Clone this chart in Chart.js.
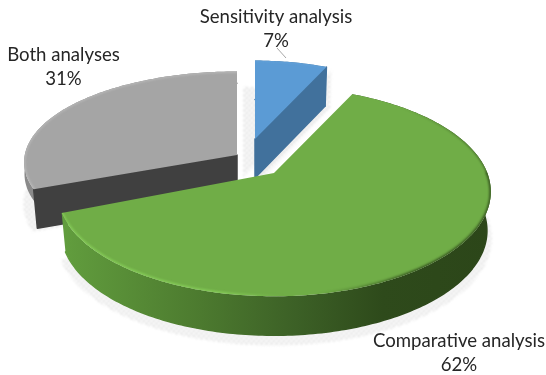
<!DOCTYPE html>
<html>
<head>
<meta charset="utf-8">
<style>html,body{margin:0;padding:0;background:#fff}canvas{display:block}</style>
<script src="https://cdn.jsdelivr.net/npm/chart.js@4"></script>
</head>
<body>
<canvas id="pie" width="546" height="375"></canvas>
<script>
const categories = ['Sensitivity analysis', 'Comparative analysis', 'Both analyses'];
const shares = [7, 62, 31];
const topColors = ['#5B9BD5', '#70AD47', '#A5A5A5'];

// Tilted-disc projection, expressed relative to the arc's own radius.
const WIDTH_RATIO = 1.155;
const HEIGHT_RATIO = 0.548;
const THICKNESS = 39;
const BASE_SHRINK = 0.018;

// Per-slice explosion (screen offset of the tip), apparent size and foreshortening.
const explode = [
  { dx: -18, dy: -48.5, size: 0.9, tall: 1, persp: 0.179 },
  { dx: 1, dy: -14.5, size: 0.985, tall: 1, persp: 0.179 },
  { dx: -36, dy: -32.5, size: 0.98, tall: 0.896, persp: 0.08 }
];
const labelSpots = [
  { x: 276, y: 23, y2: 47 },
  { x: 459, y: 347, y2: 371 },
  { x: 63.5, y: 61, y2: 85 }
];

function projector(el, i) {
  const e = explode[i];
  const cx = el.x + e.dx, cy = el.y + e.dy;
  const rx = el.outerRadius * WIDTH_RATIO * e.size;
  const ry = el.outerRadius * HEIGHT_RATIO * e.size * e.tall;
  return (theta, r, low) => {
    const X = Math.sin(theta) * r, Y = Math.cos(theta) * r;
    const w = 1 + e.persp * Y;
    const k = low ? 1 - BASE_SHRINK : 1;
    return [cx + rx * X / w * k, cy - ry * Y / w + (low ? THICKNESS : 0)];
  };
}
// Chart.js measures from 3 o'clock; the projection measures from 12 o'clock.
const sweep = (el) => [el.startAngle + Math.PI / 2, el.endAngle + Math.PI / 2];

function rimPoints(p, a0, a1, low, r = 1) {
  const n = Math.max(8, Math.ceil((a1 - a0) * 60));
  const pts = [];
  for (let j = 0; j <= n; j++) pts.push(p(a0 + (a1 - a0) * j / n, r, low));
  return pts;
}
function trace(ctx, pts) {
  ctx.beginPath();
  pts.forEach((q, j) => j ? ctx.lineTo(q[0], q[1]) : ctx.moveTo(q[0], q[1]));
  ctx.closePath();
}
function polyline(ctx, pts) {
  ctx.beginPath();
  pts.forEach((q, j) => j ? ctx.lineTo(q[0], q[1]) : ctx.moveTo(q[0], q[1]));
}
function dotPattern(ctx) {
  const c = document.createElement('canvas');
  c.width = c.height = 5;
  const g = c.getContext('2d');
  g.fillStyle = 'rgba(165,165,165,0.4)';
  g.beginPath(); g.arc(1.5, 1.5, 1.2, 0, 7); g.fill();
  g.beginPath(); g.arc(4, 4, 1.2, 0, 7); g.fill();
  return ctx.createPattern(c, 'repeat');
}

const tiltedPie = {
  id: 'tiltedPie',
  beforeDatasetsDraw(chart) {
    const ctx = chart.ctx;
    const arcs = chart.getDatasetMeta(0).data;
    const [blue, green, grey] = arcs;

    // Soft halftone shadow under the slices.
    ctx.save();
    ctx.filter = 'blur(0.9px)';
    ctx.fillStyle = dotPattern(ctx);
    arcs.forEach((el, i) => {
      const p = projector(el, i);
      const [a0, a1] = sweep(el);
      const grow = i === 1 ? 1.022 : 1.012;
      const base = [p(a0, 0, true)].concat(rimPoints(p, a0, a1, true, grow));
      ctx.save();
      ctx.translate(i === 2 ? -2 : 0, i === 1 ? 7 : 3);
      trace(ctx, base);
      ctx.fill();
      ctx.restore();
    });
    const pb = projector(blue, 0);
    const [b0, b1] = sweep(blue);
    ctx.save();
    ctx.translate(-12, -1);
    trace(ctx, [pb(b0, 0, true), pb(b0, 0.62, false), pb(b1, 0.62, false), pb(b1, 0.4, true)]);
    ctx.fill();
    ctx.translate(17, 4);
    trace(ctx, [pb(b1, 0, false), pb(b1, 1, false), pb(b1, 1, true), pb(b1, 0, true)]);
    ctx.fill();
    ctx.restore();
    ctx.restore();

    // Back to front: grey, blue, then the green slice.
    drawSlice(ctx, grey, 2, {
      band: '#8a8a8a',
      wall: 0.3,
      cut: { edge: 0, color: '#404040' },
      light: 'rgba(200,200,200,0.55)'
    });
    drawSlice(ctx, blue, 0, {
      band: '#41719C',
      wall: 1,
      cut: { edge: 1, color: '#41719C' },
      light: 'rgba(120,175,225,0.25)'
    });
    const sideFade = ctx.createLinearGradient(60, 0, 490, 0);
    sideFade.addColorStop(0, '#629E3E');
    sideFade.addColorStop(0.3, '#4E7D30');
    sideFade.addColorStop(0.55, '#3C6026');
    sideFade.addColorStop(0.75, '#2E4A1B');
    sideFade.addColorStop(1, '#2C4619');
    drawSlice(ctx, green, 1, {
      band: sideFade,
      wall: 1,
      light: 'rgba(136,208,90,0.85)',
      dark: 'rgba(44,70,25,0.85)'
    });
    return false;
  },
  afterDraw(chart) {
    const ctx = chart.ctx;
    const values = chart.data.datasets[0].data;
    ctx.save();
    ctx.fillStyle = '#262626';
    ctx.textAlign = 'center';
    ctx.textBaseline = 'alphabetic';
    ctx.font = '18.6px Lato, Carlito, sans-serif';
    chart.data.labels.forEach((name, i) => {
      const s = labelSpots[i];
      ctx.fillText(name, s.x, s.y);
      ctx.fillText(values[i] + '%', s.x, s.y2);
    });
    // Leader line for the small slice.
    ctx.strokeStyle = '#a6a6a6';
    ctx.lineWidth = 1;
    ctx.beginPath();
    ctx.moveTo(277, 48);
    ctx.lineTo(286, 58);
    ctx.stroke();
    ctx.restore();
  }
};

function drawSlice(ctx, el, i, look) {
  const p = projector(el, i);
  const [a0, a1] = sweep(el);
  const topRim = rimPoints(p, a0, a1, false);
  // The wall may stop part-way down where the flat cut covers the rest.
  const lowRim = rimPoints(p, a0, a1, true).map((q, j) => [
    topRim[j][0] + (q[0] - topRim[j][0]) * look.wall,
    topRim[j][1] + (q[1] - topRim[j][1]) * look.wall
  ]);

  // Outer wall, with its lower edge softly rounded.
  ctx.save();
  ctx.fillStyle = look.band;
  trace(ctx, topRim.concat(lowRim.slice().reverse()));
  ctx.fill();
  ctx.strokeStyle = look.band;
  ctx.lineJoin = 'round';
  ctx.lineCap = 'round';
  ctx.lineWidth = 1.5;
  polyline(ctx, lowRim);
  ctx.stroke();
  ctx.restore();

  // Flat wall exposed by the explosion.
  if (look.cut) {
    const a = look.cut.edge === 0 ? a0 : a1;
    ctx.save();
    ctx.fillStyle = look.cut.color;
    ctx.strokeStyle = look.cut.color;
    ctx.lineJoin = 'round';
    ctx.lineWidth = 1.5;
    trace(ctx, [p(a, 0, false), p(a, 1, false), p(a, 1, true), p(a, 0, true)]);
    ctx.fill();
    ctx.stroke();
    ctx.restore();
  }

  // Top face with a bevelled rim.
  ctx.save();
  trace(ctx, [p(a0, 0, false)].concat(topRim));
  ctx.fillStyle = el.options.backgroundColor;
  ctx.fill();
  ctx.clip();
  ctx.filter = 'blur(1.2px)';
  ctx.lineCap = 'round';

  const fade = (color) => color.replace(/[\d.]+\)$/, '0)');
  if (look.dark) {
    // Front edge: light on the left, shaded towards the right.
    const front = rimPoints(p, Math.PI / 2, a1, false);
    const bevel = ctx.createLinearGradient(60, 0, 490, 0);
    bevel.addColorStop(0, look.light);
    bevel.addColorStop(0.38, look.light);
    bevel.addColorStop(0.52, fade(look.light));
    bevel.addColorStop(0.6, fade(look.dark));
    bevel.addColorStop(0.82, look.dark);
    bevel.addColorStop(1, look.dark);
    ctx.strokeStyle = bevel;
    ctx.lineWidth = 3;
    polyline(ctx, front);
    ctx.stroke();
    // Back edge only carries a thin shaded line near the far right.
    const backEdge = rimPoints(p, a0, Math.PI / 2, false);
    const thin = ctx.createLinearGradient(400, 0, 490, 0);
    thin.addColorStop(0, fade(look.dark));
    thin.addColorStop(1, look.dark);
    ctx.strokeStyle = thin;
    ctx.lineWidth = 1.6;
    polyline(ctx, backEdge);
    ctx.stroke();
  } else {
    ctx.strokeStyle = look.light;
    ctx.lineWidth = 2.4;
    polyline(ctx, topRim);
    ctx.stroke();
  }
  ctx.restore();
}

new Chart(document.getElementById('pie'), {
  type: 'pie',
  data: {
    labels: categories,
    datasets: [{ data: shares, backgroundColor: topColors, borderWidth: 0 }]
  },
  options: {
    responsive: false,
    animation: false,
    layout: { padding: 0 },
    plugins: { legend: { display: false }, tooltip: { enabled: false }, title: { display: false } }
  },
  plugins: [tiltedPie]
});
</script>
</body>
</html>
